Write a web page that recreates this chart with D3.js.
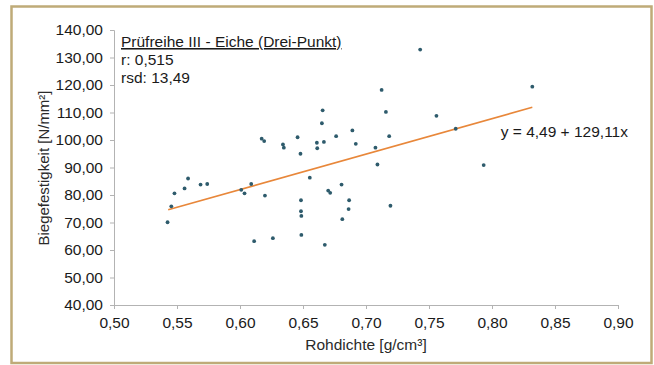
<!DOCTYPE html>
<html>
<head>
<meta charset="utf-8">
<script src="https://cdn.jsdelivr.net/npm/d3@7"></script>
<style>
  body { margin: 0; background: #fff; }
  svg text { font-family: "Liberation Sans", Arial, sans-serif; }
</style>
</head>
<body>
<script>
// values
var rohdichte = [0.5425, 0.5455, 0.548, 0.556, 0.5588, 0.5687, 0.574, 0.601, 0.6036, 0.6089,
                 0.6112, 0.6172, 0.6192, 0.6198, 0.6261, 0.6341, 0.6348, 0.6457, 0.648, 0.6484,
                 0.6484, 0.6487, 0.6487, 0.6554, 0.661, 0.6613, 0.665, 0.6656, 0.6666, 0.6673,
                 0.67, 0.6716, 0.6763, 0.6806, 0.6812, 0.6862, 0.6866, 0.6892, 0.6919, 0.7075,
                 0.7091, 0.7124, 0.7158, 0.7184, 0.7194, 0.743, 0.7559, 0.7712, 0.7934, 0.832];
var festigkeit = [70.1, 75.9, 80.6, 82.4, 86.0, 83.8, 84.0, 81.9, 80.6, 84.0,
                  63.2, 100.5, 99.6, 79.8, 64.3, 98.4, 97.2, 101.0, 95.0, 78.1,
                  74.1, 72.4, 65.5, 86.3, 99.0, 97.0, 106.1, 110.8, 99.3, 61.9,
                  81.6, 80.8, 101.4, 83.8, 71.2, 74.9, 78.1, 103.5, 98.6, 97.2,
                  91.1, 118.2, 110.2, 101.4, 76.1, 132.9, 108.8, 104.1, 90.9, 119.4];

// trend line end points (y = 4,49 + 129,11x)
var trendX = [0.543, 0.832];
var trendY = [74.6, 111.9];

var xTicks = [0.50, 0.55, 0.60, 0.65, 0.70, 0.75, 0.80, 0.85, 0.90];
var yTicks = [40, 50, 60, 70, 80, 90, 100, 110, 120, 130, 140];

var title = "Prüfreihe III - Eiche (Drei-Punkt)";
var infoLines = ["r: 0,515", "rsd: 13,49"];
var equation = "y = 4,49 + 129,11x";

var W = 654, H = 365;
var margin = {top: 30, right: 36, bottom: 60, left: 114};

var svg = d3.select("body").append("svg")
    .attr("width", W)
    .attr("height", H);

// frame
svg.append("rect")
    .attr("x", 11.5).attr("y", 6.5)
    .attr("width", 640).attr("height", 356.5)
    .attr("fill", "#fff")
    .attr("stroke", "#bfab78")
    .attr("stroke-width", 2.5);

var locale = d3.formatLocale({decimal: ",", thousands: ".", grouping: [3], currency: ["", "€"]});
var fmt = locale.format(".2f");

var x = d3.scaleLinear().domain([0.5, 0.9]).range([margin.left, W - margin.right]);
var y = d3.scaleLinear().domain([40, 140]).range([H - margin.bottom, margin.top]);

// y axis
var gy = svg.append("g")
    .attr("transform", "translate(" + margin.left + ",0)")
    .call(d3.axisLeft(y).tickValues(yTicks).tickFormat(fmt).tickSize(4).tickPadding(7));
// x axis
var gx = svg.append("g")
    .attr("transform", "translate(0," + (H - margin.bottom) + ")")
    .call(d3.axisBottom(x).tickValues(xTicks).tickFormat(fmt).tickSize(4).tickPadding(8));

[gx, gy].forEach(function(g){
    g.selectAll("path, line").attr("stroke", "#b3b3b3");
    g.selectAll("text").attr("fill", "#1a1a1a").style("font-size", "15.5px");
});

// axis titles
svg.append("text")
    .attr("x", 366).attr("y", 350)
    .attr("text-anchor", "middle")
    .attr("fill", "#2a2a2a")
    .style("font-size", "15.5px")
    .text("Rohdichte [g/cm³]");

svg.append("text")
    .attr("transform", "translate(49,168) rotate(-90)")
    .attr("text-anchor", "middle")
    .attr("fill", "#2a2a2a")
    .style("font-size", "15px")
    .text("Biegefestigkeit [N/mm²]");

// trend line
svg.append("line")
    .attr("x1", x(trendX[0])).attr("y1", y(trendY[0]))
    .attr("x2", x(trendX[1])).attr("y2", y(trendY[1]))
    .attr("stroke", "#e8873a")
    .attr("stroke-width", 1.6);

// points
svg.selectAll(".pt")
    .data(rohdichte)
    .enter()
    .append("circle")
    .attr("class", "pt")
    .attr("cx", function(d){ return x(d); })
    .attr("cy", function(d, i){ return y(festigkeit[i]); })
    .attr("r", 1.9)
    .attr("fill", "#2e5b6c");

// annotation
svg.append("text")
    .attr("x", 121).attr("y", 47)
    .attr("fill", "#1a1a1a")
    .attr("text-decoration", "underline")
    .style("font-size", "15.5px")
    .text(title);

svg.selectAll(".info")
    .data(infoLines)
    .enter()
    .append("text")
    .attr("class", "info")
    .attr("x", 121)
    .attr("y", function(d, i){ return 65 + i * 18; })
    .attr("fill", "#1a1a1a")
    .style("font-size", "15.5px")
    .text(function(d){ return d; });

svg.append("text")
    .attr("x", 628).attr("y", 137)
    .attr("text-anchor", "end")
    .attr("fill", "#1a1a1a")
    .style("font-size", "15.5px")
    .text(equation);
</script>
</body>
</html>
